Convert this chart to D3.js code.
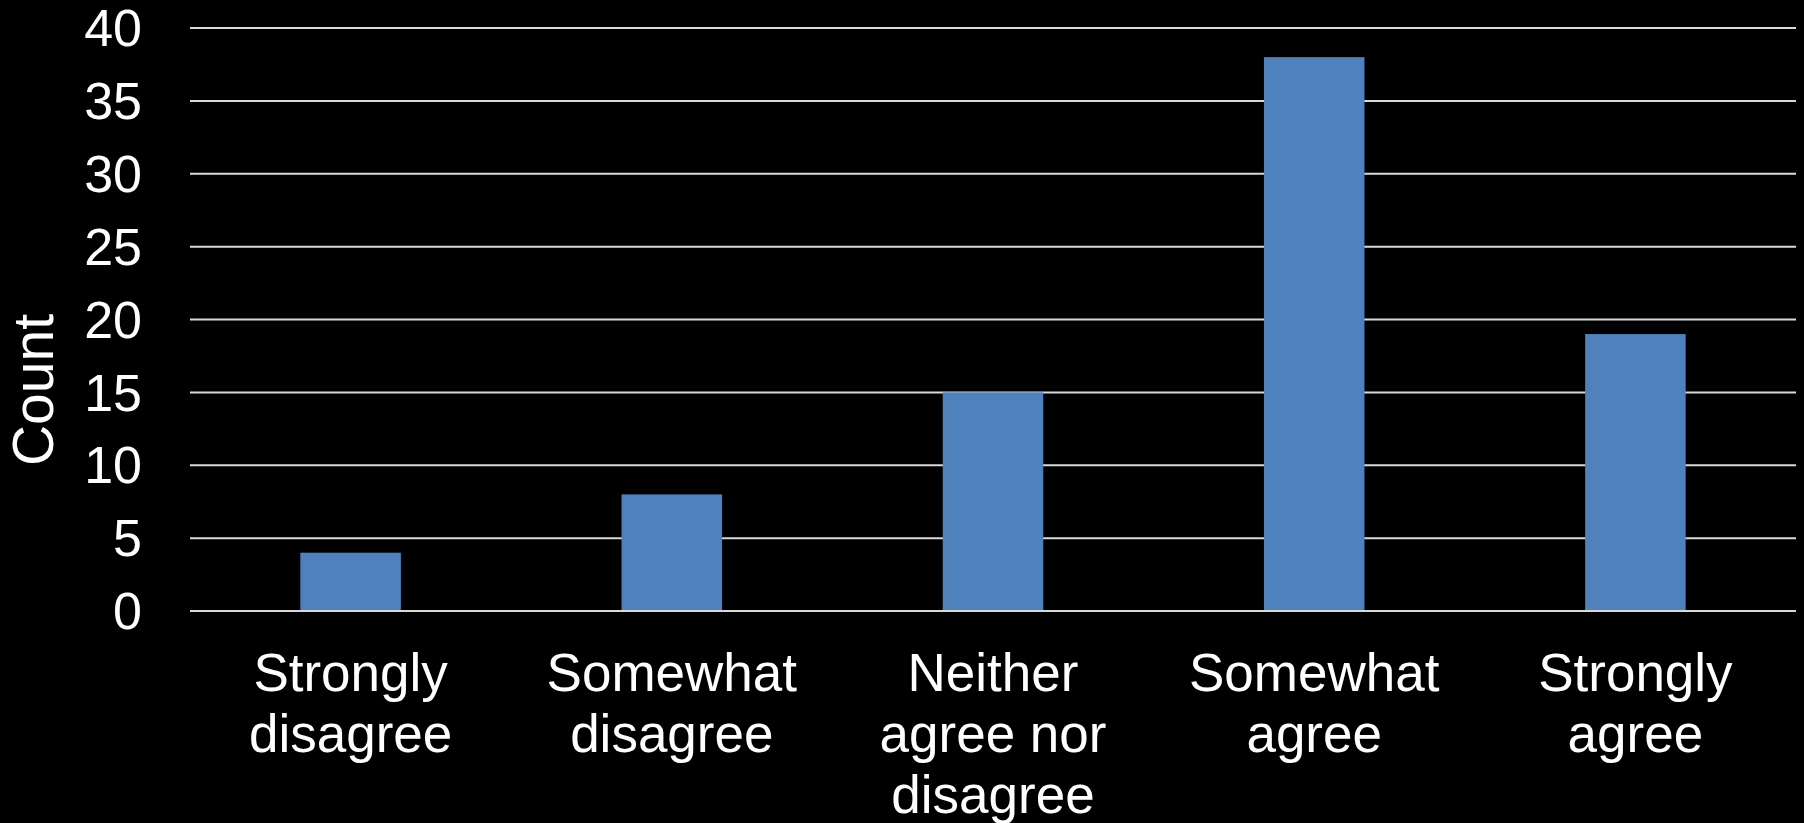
<html>

<head>
    <style>
        body {
            margin: 0;
            background: #000;
        }

        text {
            font-family: "Liberation Sans", Arial, sans-serif;
            fill: #fff;
        }

        .grid line {
            stroke: #d9d9d9;
            stroke-width: 2px;
        }
    </style>
</head>

<body>
    <script src="https://d3js.org/d3.v7.min.js"></script>
    <script>
        var width = 1804,
            height = 823;

        // data
        var categories = [
            ["Strongly", "disagree"],
            ["Somewhat", "disagree"],
            ["Neither", "agree nor", "disagree"],
            ["Somewhat", "agree"],
            ["Strongly", "agree"]
        ];
        var counts = [4, 8, 15, 38, 19];
        var yTicks = [0, 5, 10, 15, 20, 25, 30, 35, 40];

        var margin = { left: 190, right: 8, top: 28, bottom: 212 };

        var svg = d3.select("body")
            .append("svg")
            .attr("width", width)
            .attr("height", height);

        svg.append("rect")
            .attr("width", width)
            .attr("height", height)
            .attr("fill", "#000");

        var x = d3.scaleBand()
            .domain(d3.range(categories.length))
            .range([margin.left, width - margin.right])
            .padding(0);

        var y = d3.scaleLinear()
            .domain([0, 40])
            .range([height - margin.bottom, margin.top]);

        // gridlines
        var grid = svg.append("g")
            .attr("class", "grid")
            .selectAll("line")
            .data(yTicks)
            .enter()
            .append("line")
            .attr("x1", margin.left)
            .attr("x2", width - margin.right)
            .attr("y1", d => y(d))
            .attr("y2", d => y(d));

        // y tick labels
        svg.append("g")
            .selectAll("text")
            .data(yTicks)
            .enter()
            .append("text")
            .attr("x", 142)
            .attr("y", d => y(d))
            .attr("dy", "0.35em")
            .attr("text-anchor", "end")
            .style("font-size", "52px")
            .text(d => d);

        // bars
        var barW = x.bandwidth() * 0.313;
        svg.append("g")
            .selectAll("rect")
            .data(counts)
            .enter()
            .append("rect")
            .attr("x", (d, i) => x(i) + x.bandwidth() / 2 - barW / 2)
            .attr("width", barW)
            .attr("y", d => y(d))
            .attr("height", d => y(0) - y(d) - 1)
            .attr("fill", "#4f81bd");

        // category labels
        var labels = svg.append("g")
            .selectAll("text")
            .data(categories)
            .enter()
            .append("text")
            .attr("text-anchor", "middle")
            .style("font-size", "53px")
            .attr("transform", (d, i) => "translate(" + (x(i) + x.bandwidth() / 2) + "," + (y(0) + 80) + ")");

        labels.selectAll("tspan")
            .data(d => d)
            .enter()
            .append("tspan")
            .attr("x", 0)
            .attr("y", (d, i) => i * 61)
            .text(d => d);

        // axis title
        svg.append("text")
            .attr("transform", "translate(53," + 390 + ") rotate(-90)")
            .attr("text-anchor", "middle")
            .style("font-size", "57px")
            .text("Count");
    </script>
</body>

</html>
